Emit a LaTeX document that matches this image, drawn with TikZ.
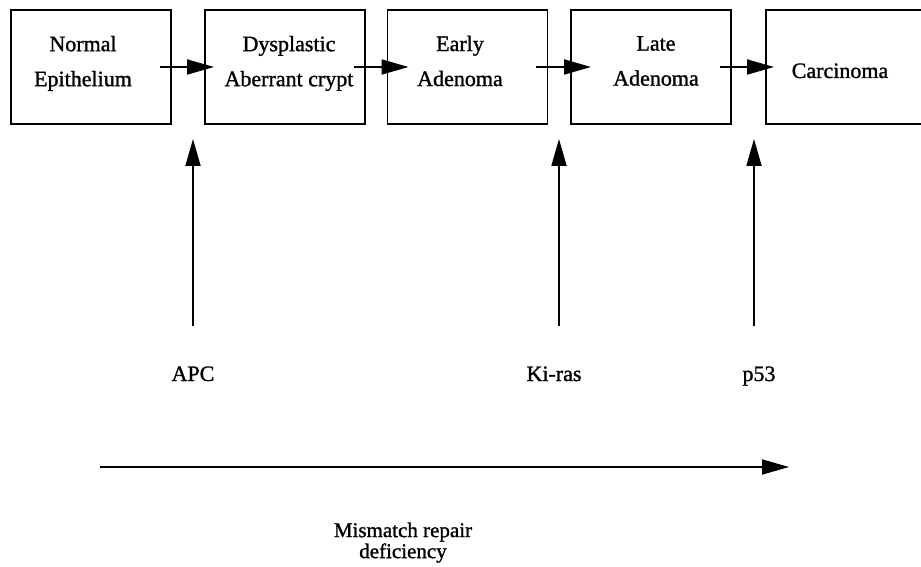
\documentclass[tikz,border=0pt]{standalone}
\usepackage{fontspec}
\setmainfont[FakeBold=1.2]{Liberation Serif}
\usetikzlibrary{arrows.meta}

\begin{document}
\begin{tikzpicture}[
    x=1pt, y=-1pt,
    stage/.style={rectangle, draw, line width=1.9pt, minimum width=160pt, minimum height=114pt},
    txt/.style={align=center, font=\fontsize{22}{35}\selectfont},
    gene/.style={font=\fontsize{22}{26}\selectfont, anchor=base},
    ptr/.style={-{Triangle[length=27pt,width=15pt]}, line width=1.8pt}
]
    \useasboundingbox (0,0) rectangle (921,567);

    % Stages
    \node[stage] (normal) at (91,67) {};
    \node[stage] (dysp) at (285,67) {};
    \node[stage] (early) at (467.5,67) {};
    \node[stage] (late) at (651,67) {};
    \node[stage] (carc) at (846,67) {};

    % Stage texts
    \node[txt] (tnormal) at (83,63.4) {Normal\\Epithelium};
    \node[txt] (tdysp) at (289,63.4) {Dysplastic\\Aberrant crypt};
    \node[txt] (tearly) at (460,61) {Early\\Adenoma};
    \node[txt] (tlate) at (656,61) {Late\\Adenoma};
    \node[txt, anchor=base] (tcarc) at (840,78) {Carcinoma};

    % Progression arrows
    \foreach \a/\b/\s in {normal/dysp/10, dysp/early/22, early/late/21, late/carc/9}
        \draw[ptr] ([xshift=-12pt]\a.east) -- ([xshift=\s pt]\b.west);

    % Genes
    \node[gene] (apc) at (193,381) {APC};
    \node[gene] (kiras) at (554,381) {Ki-ras};
    \node[gene] (p53) at (759,381) {p53};
    \foreach \g/\x in {apc/193, kiras/559, p53/754} {
        \coordinate (\g base) at (\x,326);
        \coordinate (\g tip) at (\x,139);
        \draw[ptr] (\g base) -- (\g tip);
    }

    % Mismatch repair
    \coordinate (mmrstart) at (100,467);
    \coordinate (mmrend) at (789,467);
    \draw[ptr] (mmrstart) -- (mmrend);
    \node[align=center, font=\fontsize{21}{21}\selectfont] (mmr) at (403,542.6) {Mismatch repair\\deficiency};
\end{tikzpicture}
\end{document}
